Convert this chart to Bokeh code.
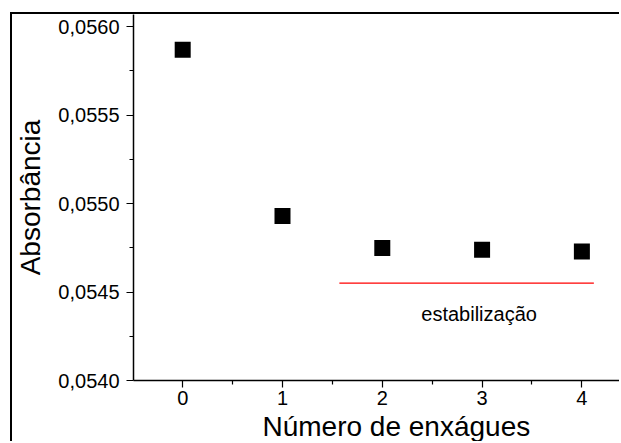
from bokeh.plotting import figure
from bokeh.models import Range1d, FixedTicker, CustomJSTickFormatter, Label, Title
from bokeh.embed import file_html
from bokeh.resources import INLINE

# data
enxagues = [0, 1, 2, 3, 4]
absorbancia = [0.055869, 0.054929, 0.054748, 0.054738, 0.054729]
estab_x = [1.57, 4.12]
estab_y = [0.05455, 0.05455]
estab_text = "estabilização"
y_ticks = [0.0540, 0.0545, 0.0550, 0.0555, 0.0560]
y_minor = [0.05425, 0.05475, 0.05525, 0.05575]
x_ticks = [0, 1, 2, 3, 4]
x_minor = [0.5, 1.5, 2.5, 3.5]
x_title = "Número de enxágues"
y_title = "Absorbância"

FONT = "Liberation Sans"

p = figure(width=609, height=429, output_backend="svg", toolbar_location=None,
           x_range=Range1d(-0.493, 4.397), y_range=Range1d(0.0540, 0.0560678),
           min_border_left=120, min_border_right=0, min_border_top=0, min_border_bottom=63,
           styles={"border-top": "2px solid black", "border-left": "2px solid black",
                   "margin-top": "12px", "margin-left": "10px"})
p.outline_line_color = None
p.grid.visible = False
p.background_fill_color = "white"
p.border_fill_color = "white"

for ax in (p.xaxis[0], p.yaxis[0]):
    ax.axis_line_color = "black"
    ax.axis_line_width = 1.5
    ax.major_tick_line_color = "black"
    ax.minor_tick_line_color = "black"
    ax.major_tick_line_width = 1.2
    ax.minor_tick_line_width = 1.2
    ax.major_tick_out = 7
    ax.major_tick_in = 0
    ax.minor_tick_out = 4
    ax.minor_tick_in = 0
    ax.major_label_text_font = FONT
    ax.major_label_text_font_size = "20px"
    ax.major_label_text_color = "black"

p.xaxis.ticker = FixedTicker(ticks=x_ticks, minor_ticks=x_minor)
p.yaxis.ticker = FixedTicker(ticks=y_ticks, minor_ticks=y_minor)
p.yaxis.formatter = CustomJSTickFormatter(code="return tick.toFixed(4).replace('.', ',');")
p.xaxis.major_label_standoff = 3
p.yaxis.major_label_standoff = 7

p.yaxis.axis_label = y_title
p.yaxis.axis_label_text_font = FONT
p.yaxis.axis_label_text_font_size = "28px"
p.yaxis.axis_label_text_font_style = "normal"
p.yaxis.axis_label_text_color = "black"
p.yaxis.axis_label_standoff = 9

p.add_layout(Title(text=x_title, align="left", offset=129, standoff=3,
                   text_font=FONT, text_font_size="28px", text_font_style="normal",
                   text_color="black"), "below")

p.line(estab_x, estab_y, line_color="#ff0000", line_width=1.3)
p.add_layout(Label(x=2.97, y=0.054378, text=estab_text, text_font=FONT,
                   text_font_size="20px", text_color="black",
                   text_align="center", text_baseline="middle"))

p.scatter(enxagues, absorbancia, marker="square", size=16, fill_color="black",
          line_color="black", line_width=0)

open("out.html", "w").write(file_html(p, INLINE))
